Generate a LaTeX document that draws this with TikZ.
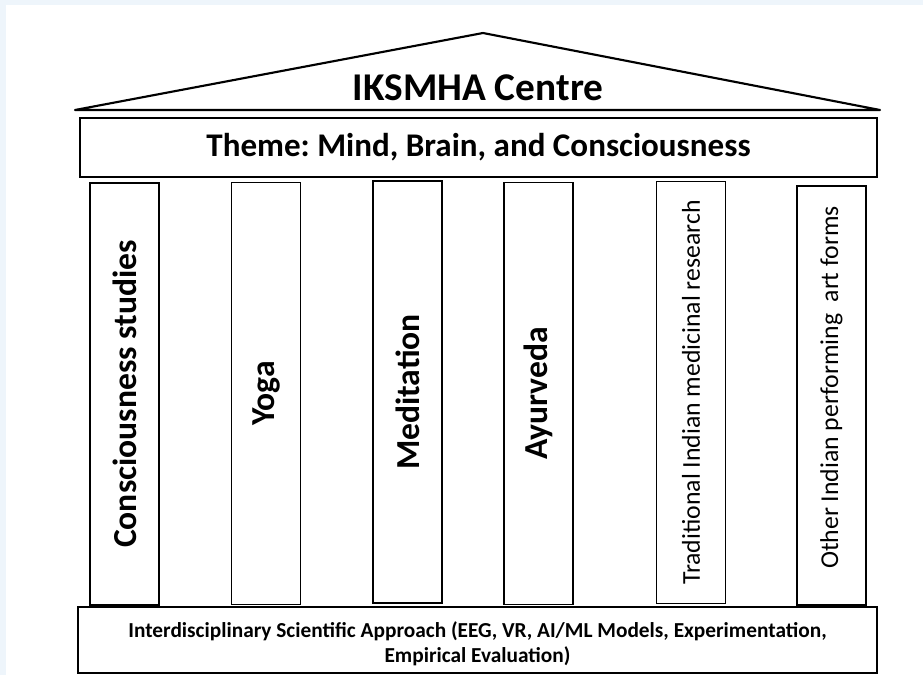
\documentclass[tikz,border=0pt]{standalone}
\usepackage{fontspec}
\setmainfont{Carlito}
\definecolor{pagebg}{HTML}{EEF5FB}
\frenchspacing
\begin{document}
\begin{tikzpicture}[x=0.75pt,y=-0.75pt,
  pillar/.style={draw,line width=1.2pt,rotate=90,minimum width=316.5pt,minimum height=52pt,inner sep=0pt},
  beam/.style={draw,line width=1.2pt,inner sep=0pt,align=center},
  bigword/.style={font=\fontsize{25.2}{28}\selectfont\bfseries},
  smallword/.style={font=\fontsize{19.3}{22}\selectfont}]
\useasboundingbox (0,0) rectangle (923,675);
\fill[pagebg] (0,0) rectangle (923,675);
\fill[white] (6,5) rectangle (923,675);
% roof
\coordinate (eaveL) at (75,110);
\coordinate (apex) at (483,33);
\coordinate (eaveR) at (880,110);
\draw[line width=1.6pt,line join=round] (eaveL) -- (apex) -- (eaveR) -- cycle;
\node[font=\fontsize{29.5}{32}\selectfont\bfseries] (title) at (478,88) {IKSMHA Centre};
% beam
\node[beam,minimum width=597.75pt,minimum height=44.25pt,font=\fontsize{24.8}{28}\selectfont\bfseries] (theme) at (478.5,147.5) {Theme: Mind, Brain, and Consciousness};
% pillars
\node[pillar,bigword] (consc) at (124.5,394) {Consciousness studies};
\node[pillar,bigword] (yoga) at (266,393.5) {Yoga};
\node[pillar,bigword] (medit) at (407.5,392) {Meditation};
\node[pillar,bigword] (ayur) at (538.5,393.5) {Ayurveda};
\node[pillar,smallword] (trad) at (691,392.5) {Traditional Indian medicinal research};
\node[pillar,smallword,minimum width=314pt] (arts) at (831.5,395.5) {\hspace*{12pt}Other Indian performing\hspace{0.45em}art forms};
% base
\node[beam,minimum width=599pt,minimum height=49.5pt] (base) at (477.5,640) {};
\node[align=center,inner sep=0pt,font=\fontsize{16}{18.75}\selectfont\bfseries] (basetext) at ([yshift=-3pt]base.center) {Interdisciplinary Scientific Approach (EEG, VR, AI/ML Models, Experimentation,\\ Empirical Evaluation)};
\end{tikzpicture}
\end{document}
